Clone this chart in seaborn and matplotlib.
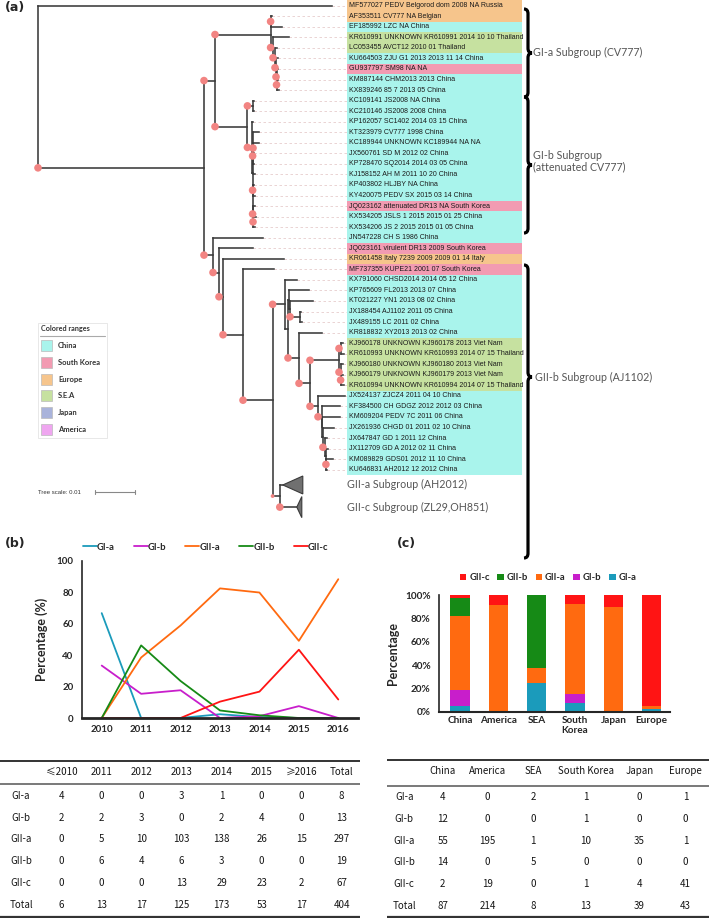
import numpy as np
import pandas as pd
import matplotlib
matplotlib.use("Agg")
import matplotlib.pyplot as plt
from matplotlib.path import Path
from matplotlib.patches import PathPatch, Rectangle, Polygon
from matplotlib.collections import LineCollection
from matplotlib.ticker import MultipleLocator
import seaborn as sns

# ---------------- (a) phylogenetic tree ----------------
# branch lengths in substitutions/site, internal labels = bootstrap support
TREE_NEWICK = (
    "(MF577027:0.0735,"
    "((((AF353511:0.00025,EF185992:0.00275)100:0.0001,"
    "(KR610991:0.004,(LC053455:0.0005,(KU664503:0.0005,(GU937797:0.00025,"
    "(KM887144:0.00025,KX839246:0.0006)100:0.00013)100:0.00013)100:0.00025)100:0.0005)100:0.0006)100:0.0139,"
    "((KC109141:0.0002,KC210146:0.0002)100:0.00145,"
    "(KP162057:0.0003,(KT323979:0.0016,((KC189944:0.0014,JX560761:0.00025)100:0.0001,KP728470:0.0003)100:0.0001,"
    "KJ158152:0.0006,(KP403802:0.0003,KY420075:0.0005)100:0.0001,"
    "(JQ023162:0.0005,(KX534205:0.0006,KX534206:0.0004)100:0.0001)100:0.0001):0.0002)100:0.0011)100:0.0081)100:0.00275,"
    "(JN547228:0.0125,(JQ023161:0.0085,(KR061458:0.01525,(MF737355:0.00775,"
    "((KX791060:0.0029,((KP765609:0.0051,(KT021227:0.00575,(JX188454:0.00025,JX489155:0.0005)100:0.0025):0.00025):0.00025,"
    "(KR818832:0.0057,(((KJ960178:0.0005,KR610993:0.0007)100:0.0005,(KJ960180:0.0006,(KJ960179:0.0005,KR610994:0.00075)100:0.00013)100:0.0004)100:0.00725,"
    "(JX524137:0.00675,(KF384500:0.0046,(KM609204:0.0044,(JX261936:0.00275,(JX647847:0.0005,(JX112709:0.0005,"
    "(KM089829:0.0016,KU646831:0.00013)100:0.00013):0.00025)100:0.0005):0.00013):0.0002)100:0.0009)100:0.002)100:0.00275)100:0.00275):0.00075)100:0.0031,"
    "(GII-a:0.00075,GII-c:0.00425)50:0.0018)100:0.0074)100:0.005)100:0.001)100:0.0015)100:0.00225)100:0.0415);"
)

LEAF_LABELS = [
    "MF577027 PEDV Belgorod dom 2008 NA Russia", "AF353511 CV777 NA Belgian",
    "EF185992 LZC NA China", "KR610991 UNKNOWN KR610991 2014 10 10 Thailand",
    "LC053455 AVCT12 2010 01 Thailand", "KU664503 ZJU G1 2013 2013 11 14 China",
    "GU937797 SM98 NA NA", "KM887144 CHM2013 2013 China", "KX839246 85 7 2013 05 China",
    "KC109141 JS2008 NA China", "KC210146 JS2008 2008 China", "KP162057 SC1402 2014 03 15 China",
    "KT323979 CV777 1998 China", "KC189944 UNKNOWN KC189944 NA NA", "JX560761 SD M 2012 02 China",
    "KP728470 SQ2014 2014 03 05 China", "KJ158152 AH M 2011 10 20 China", "KP403802 HLJBY NA China",
    "KY420075 PEDV SX 2015 03 14 China", "JQ023162 attenuated DR13 NA South Korea",
    "KX534205 JSLS 1 2015 2015 01 25 China", "KX534206 JS 2 2015 2015 01 05 China",
    "JN547228 CH S 1986 China", "JQ023161 virulent DR13 2009 South Korea",
    "KR061458 Italy 7239 2009 2009 01 14 Italy", "MF737355 KUPE21 2001 07 South Korea",
    "KX791060 CHSD2014 2014 05 12 China", "KP765609 FL2013 2013 07 China",
    "KT021227 YN1 2013 08 02 China", "JX188454 AJ1102 2011 05 China", "JX489155 LC 2011 02 China",
    "KR818832 XY2013 2013 02 China", "KJ960178 UNKNOWN KJ960178 2013 Viet Nam",
    "KR610993 UNKNOWN KR610993 2014 07 15 Thailand", "KJ960180 UNKNOWN KJ960180 2013 Viet Nam",
    "KJ960179 UNKNOWN KJ960179 2013 Viet Nam", "KR610994 UNKNOWN KR610994 2014 07 15 Thailand",
    "JX524137 ZJCZ4 2011 04 10 China", "KF384500 CH GDGZ 2012 2012 03 China",
    "KM609204 PEDV 7C 2011 06 China", "JX261936 CHGD 01 2011 02 10 China",
    "JX647847 GD 1 2011 12 China", "JX112709 GD A 2012 02 11 China",
    "KM089829 GDS01 2012 11 10 China", "KU646831 AH2012 12 2012 China",
]
LEAF_REGIONS = (
    ["Europe", "Europe", "China", "S.E.A", "S.E.A", "China", "South Korea", "China", "China"]
    + ["China"] * 10 + ["South Korea", "China", "China", "China", "South Korea", "Europe", "South Korea"]
    + ["China"] * 6 + ["S.E.A"] * 5 + ["China"] * 8
)

CLADE_NAMES = ["GII-a", "GII-c"]
CLADE_LABELS = ["GII-a Subgroup (AH2012)", "GII-c Subgroup (ZL29,OH851)"]
CLADE_DEPTH = [0.005, 0.00125]
CLADE_SUPPORT = [None, 100]

BRACE_LABELS = ["GI-a Subgroup (CV777)", "GI-b Subgroup\n(attenuated CV777)", "GII-b Subgroup (AJ1102)"]

RANGE_NAMES = ["China", "South Korea", "Europe", "S.E.A", "Japan", "America"]
RANGE_COLORS = ["#a9f4ec", "#f29bb2", "#f6c58c", "#c6e1a0", "#a9b3db", "#efa6f0"]

# ---------------- (b) counts by year ----------------
GROUPS = ["GI-a", "GI-b", "GII-a", "GII-b", "GII-c"]
YEARS = [2010, 2011, 2012, 2013, 2014, 2015, 2016]
YEAR_HEADER = ["≤2010", "2011", "2012", "2013", "2014", "2015", "≥2016", "Total"]
YEAR_GIa = [4, 0, 0, 3, 1, 0, 0, 8]
YEAR_GIb = [2, 2, 3, 0, 2, 4, 0, 13]
YEAR_GIIa = [0, 5, 10, 103, 138, 26, 15, 297]
YEAR_GIIb = [0, 6, 4, 6, 3, 0, 0, 19]
YEAR_GIIc = [0, 0, 0, 13, 29, 23, 2, 67]
YEAR_TOTAL = [6, 13, 17, 125, 173, 53, 17, 404]

# ---------------- (c) counts by region ----------------
REGIONS = ["China", "America", "SEA", "South Korea", "Japan", "Europe"]
REGION_TICKS = ["China", "America", "SEA", "South\nKorea", "Japan", "Europe"]
REGION_GIa = [4, 0, 2, 1, 0, 1]
REGION_GIb = [12, 0, 0, 1, 0, 0]
REGION_GIIa = [55, 195, 1, 10, 35, 1]
REGION_GIIb = [14, 0, 5, 0, 0, 0]
REGION_GIIc = [2, 19, 0, 1, 4, 41]
REGION_TOTAL = [87, 214, 8, 13, 39, 43]

GROUP_COLORS = {"GI-a": "#1b9bbb", "GI-b": "#c81ecb", "GII-a": "#ff6a10",
                "GII-b": "#168a16", "GII-c": "#ff1414"}

W, H = 709, 918
sns.set_style("white")
plt.rcParams["font.family"] = ["Lato", "DejaVu Sans"]


def parse_newick(s):
    pos = 0

    def node():
        nonlocal pos
        n = {"children": [], "name": "", "len": 0.0, "support": None}
        if s[pos] == "(":
            pos += 1
            n["children"].append(node())
            while s[pos] == ",":
                pos += 1
                n["children"].append(node())
            pos += 1
        start = pos
        while s[pos] not in ":,);":
            pos += 1
        label = s[start:pos]
        if n["children"]:
            n["support"] = float(label) if label else None
        else:
            n["name"] = label
        if s[pos] == ":":
            pos += 1
            start = pos
            while s[pos] not in ",);":
                pos += 1
            n["len"] = float(s[start:pos])
        return n

    return node()


def layout(n, x0, cursor, row_h):
    n["x"] = x0 + n["len"]
    if n["children"]:
        for c in n["children"]:
            cursor = layout(c, n["x"], cursor, row_h)
        n["y"] = (n["children"][0]["y"] + n["children"][-1]["y"]) / 2
    else:
        h = row_h.get(n["name"], 1.0)
        n["y"] = cursor + h / 2
        cursor += h
    return cursor


def walk(n, parent=None):
    yield n, parent
    for c in n["children"]:
        yield from walk(c, n)


def brace(ax, x, y0, y1, ym, w, q, **kw):
    xm = x + w / 2
    verts = [(x, y0), (xm, y0), (xm, y0 + q), (xm, ym - q), (xm, ym), (x + w, ym),
             (xm, ym), (xm, ym + q), (xm, y1 - q), (xm, y1), (x, y1)]
    codes = [Path.MOVETO, Path.CURVE3, Path.CURVE3, Path.LINETO, Path.CURVE3, Path.CURVE3,
             Path.CURVE3, Path.CURVE3, Path.LINETO, Path.CURVE3, Path.CURVE3]
    ax.add_patch(PathPatch(Path(verts, codes), fill=False, **kw))


fig = plt.figure(figsize=(W / 100, H / 100), dpi=100)

# ---------- panel (a) ----------
TREE_TOP, TREE_BOT = 0, 560
ROOT_PX, PX_PER_UNIT = 38, 4000
ROW0_PX, ROW_PX = 5.7, 10.545


def X(px):
    return (px - ROOT_PX) / PX_PER_UNIT


def Y(py):
    return (py - ROW0_PX) / ROW_PX


ax_a = fig.add_axes([0, 1 - TREE_BOT / H, 1, (TREE_BOT - TREE_TOP) / H])
ax_a.set_xlim(X(0), X(W))
ax_a.set_ylim(Y(TREE_BOT), Y(TREE_TOP))
ax_a.axis("off")

tree = parse_newick(TREE_NEWICK)
layout(tree, 0.0, -0.5, {"GII-a": 1.9, "GII-c": 2.3})

segs = []
pts, sizes = [], []
leaves = []
for n, p in walk(tree):
    if n["children"]:
        segs.append([(n["x"], n["children"][0]["y"]), (n["x"], n["children"][-1]["y"])])
    else:
        leaves.append(n)
    if p is not None:
        segs.append([(p["x"], n["y"]), (n["x"], n["y"])])
        sup = n["support"]
        if n["name"] in CLADE_NAMES:
            sup = CLADE_SUPPORT[CLADE_NAMES.index(n["name"])]
        if sup:
            pts.append((p["x"], n["y"]))
            sizes.append(30 * (sup / 100) ** 2)

label_x0, label_x1 = X(347), X(522)
region_color = dict(zip(RANGE_NAMES, RANGE_COLORS))
leaf_i = 0
for lf in leaves:
    if lf["name"] in CLADE_NAMES:
        k = CLADE_NAMES.index(lf["name"])
        d = CLADE_DEPTH[k]
        hh = 0.85 if k == 0 else 1.0
        ax_a.add_patch(Polygon([(lf["x"], lf["y"]), (lf["x"] + d, lf["y"] - hh), (lf["x"] + d, lf["y"] + hh)],
                               closed=True, facecolor="#707070", edgecolor="#3a3a3a", lw=0.8, zorder=3))
        ax_a.text(label_x0, lf["y"], CLADE_LABELS[k], fontsize=7.7, color="#555555",
                  va="center", ha="left")
        continue
    ax_a.plot([lf["x"], label_x0], [lf["y"], lf["y"]], color="#e6cccc", lw=0.6,
              linestyle=(0, (3, 3)), zorder=1)
    ax_a.add_patch(Rectangle((label_x0, lf["y"] - 0.5), label_x1 - label_x0, 1.0,
                             facecolor=region_color[LEAF_REGIONS[leaf_i]], edgecolor="none", zorder=1))
    ax_a.text(X(349), lf["y"], LEAF_LABELS[leaf_i], fontsize=5.0, color="#1a1a1a",
              family="Liberation Sans", va="center", ha="left", zorder=2)
    leaf_i += 1

ax_a.add_collection(LineCollection(segs, colors="#3a3a3a", linewidths=1.15, capstyle="projecting", zorder=2))
ax_a.scatter([p[0] for p in pts], [p[1] for p in pts], s=sizes, color="#f28482",
             edgecolor="none", zorder=4)

# braces with subgroup labels
brace_kw = dict(edgecolor="black", lw=2.3, zorder=5)
brace(ax_a, X(524), Y(9), Y(97), Y(53), X(532) - X(524), 0.45, **brace_kw)
brace(ax_a, X(524), Y(97), Y(233), Y(165), X(532) - X(524), 0.45, **brace_kw)
brace(ax_a, X(524), Y(265), Y(558), Y(377), X(532) - X(524), 0.45, **brace_kw)
ax_a.text(X(533), Y(52), BRACE_LABELS[0], fontsize=7.7, color="#555555", va="center")
ax_a.text(X(533), Y(161), BRACE_LABELS[1], fontsize=7.7, color="#555555", va="center",
          linespacing=1.05)
ax_a.text(X(535), Y(377), BRACE_LABELS[2], fontsize=7.7, color="#555555", va="center")

# colored ranges legend
ax_a.add_patch(Rectangle((X(38), Y(438)), X(107) - X(38), Y(323) - Y(438),
                         facecolor="white", edgecolor="#e4e4e4", lw=0.6, zorder=3))
ax_a.text(X(41), Y(329), "Colored ranges", fontsize=5.2, fontweight="bold", color="#333333",
          va="center", zorder=4)
ax_a.plot([X(40), X(105)], [Y(336), Y(336)], color="#aaaaaa", lw=0.8, zorder=4)
for i, (nm, col) in enumerate(zip(RANGE_NAMES, RANGE_COLORS)):
    yc = 345.7 + 16.7 * i
    ax_a.add_patch(Rectangle((X(41), Y(yc + 5.5)), X(52) - X(41), Y(yc - 5.5) - Y(yc + 5.5),
                             facecolor=col, edgecolor="#bbbbbb", lw=0.5, zorder=4))
    ax_a.text(X(58), Y(yc), nm, fontsize=5.5, fontweight="bold", color="#333333",
              va="center", zorder=4)

# tree scale
ax_a.text(X(38), Y(492), "Tree scale: 0.01", fontsize=4.3, color="#333333", va="center",
          family="Liberation Sans")
ax_a.plot([X(95), X(95) + 0.01], [Y(492), Y(492)], color="#888888", lw=0.8)
for xx in (X(95), X(95) + 0.01):
    ax_a.plot([xx, xx], [Y(490), Y(494)], color="#888888", lw=0.8)

fig.text(5 / W, 1 - 8 / H, "(a)", fontsize=9, fontweight="bold", va="center", family="DejaVu Sans")
fig.text(5 / W, 1 - 543 / H, "(b)", fontsize=9, fontweight="bold", va="center", family="DejaVu Sans")
fig.text(397 / W, 1 - 543 / H, "(c)", fontsize=9, fontweight="bold", va="center", family="DejaVu Sans")

# ---------- panel (b) ----------
year_counts = [YEAR_GIa, YEAR_GIb, YEAR_GIIa, YEAR_GIIb, YEAR_GIIc]
rows = []
for g, cnt in zip(GROUPS, year_counts):
    for j, yr in enumerate(YEARS):
        rows.append({"year": yr, "group": g, "pct": 100 * cnt[j] / YEAR_TOTAL[j]})
df_b = pd.DataFrame(rows)

ax_b = fig.add_axes([82 / W, 1 - 718 / H, 276 / W, 157.3 / H])
sns.lineplot(data=df_b, x="year", y="pct", hue="group", hue_order=GROUPS,
             palette=GROUP_COLORS, linewidth=1.3, ax=ax_b)
ax_b.set_xlim(2009.5, 2016.5)
ax_b.set_ylim(0, 100)
ax_b.set_xticks(YEARS)
ax_b.set_xticklabels([str(y) for y in YEARS], fontweight="bold", fontsize=7)
ax_b.set_yticks(range(0, 101, 20))
ax_b.set_yticklabels([str(v) for v in range(0, 101, 20)], fontweight="bold", fontsize=7)
ax_b.yaxis.set_minor_locator(MultipleLocator(10))
ax_b.tick_params(axis="x", length=0, pad=5)
ax_b.tick_params(axis="y", which="major", direction="out", length=4, width=1.2, pad=2)
ax_b.tick_params(axis="y", which="minor", direction="in", length=2.5, width=1.0)
ax_b.set_xlabel("")
ax_b.set_ylabel("Percentage (%)", fontweight="bold", fontsize=9, labelpad=6)
for s in ("top", "right"):
    ax_b.spines[s].set_visible(False)
ax_b.spines["left"].set_linewidth(1.2)
ax_b.spines["bottom"].set_linewidth(2.0)
handles, labels = ax_b.get_legend_handles_labels()
leg = ax_b.legend(handles, labels, loc="center", bbox_to_anchor=(0.447, 1.087), ncol=5,
                  frameon=False, handlelength=1.5, handletextpad=0.0, columnspacing=2.0,
                  prop={"weight": "bold", "size": 6.8})

# ---------- panel (c) ----------
region_counts = [REGION_GIa, REGION_GIb, REGION_GIIa, REGION_GIIb, REGION_GIIc]
rows = []
for g, cnt in zip(GROUPS, region_counts):
    for j, r in enumerate(REGIONS):
        rows.append({"region": r, "group": g, "count": cnt[j]})
df_c = pd.DataFrame(rows)

ax_c = fig.add_axes([439 / W, 1 - 711.7 / H, 231 / W, 116.7 / H])
sns.histplot(data=df_c, x="region", hue="group", weights="count", multiple="fill",
             discrete=True, shrink=0.5, hue_order=GROUPS[::-1], palette=GROUP_COLORS,
             alpha=1, linewidth=0, ax=ax_c)
ax_c.set_xlim(-0.55, 5.48)
ax_c.set_ylim(0, 1)
ax_c.set_xticks(range(len(REGIONS)))
ax_c.set_xticklabels(REGION_TICKS, fontweight="bold", fontsize=7.2)
ax_c.set_yticks(np.arange(0, 1.01, 0.2))
ax_c.set_yticklabels([f"{v}%" for v in range(0, 101, 20)], fontweight="bold", fontsize=7.2)
ax_c.yaxis.set_minor_locator(MultipleLocator(0.1))
ax_c.tick_params(axis="x", length=0, pad=3)
ax_c.tick_params(axis="y", which="major", direction="out", length=4, width=1.2, pad=2)
ax_c.tick_params(axis="y", which="minor", direction="out", length=2.5, width=1.0)
ax_c.set_xlabel("")
ax_c.set_ylabel("Percentage", fontweight="bold", fontsize=9, labelpad=4)
for s in ("top", "right"):
    ax_c.spines[s].set_visible(False)
ax_c.spines["left"].set_linewidth(1.2)
ax_c.spines["bottom"].set_linewidth(1.5)
sns.move_legend(ax_c, "center", bbox_to_anchor=(0.472, 1.146), ncol=5, frameon=False,
                title=None, handlelength=0.7, handleheight=0.7, handletextpad=0.3,
                columnspacing=0.8, fontsize=6.8)
for t in ax_c.get_legend().get_texts():
    t.set_fontweight("bold")

# ---------- tables ----------
TABLE_FONT = ["Noto Sans CJK SC", "DejaVu Sans"]


def draw_table(rect, xlim, header, row_names, data_rows, col_x, first_x, y_top, y_hdr, y_rule,
               y_rows, y_bot):
    ax = fig.add_axes(rect)
    ax.set_xlim(*xlim)
    ax.set_ylim(H, 755)
    ax.axis("off")
    ax.hlines(y_top, xlim[0], xlim[1], color="#333333", lw=1.4)
    ax.hlines(y_rule, xlim[0], xlim[1], color="#555555", lw=1.1)
    ax.hlines(y_bot, xlim[0], xlim[1], color="#333333", lw=1.6)
    for j, h in enumerate(header):
        ax.text(col_x[j], y_hdr, h, ha="center", va="center", fontsize=7,
                family=TABLE_FONT, color="#151515")
    for i, (nm, vals) in enumerate(zip(row_names, data_rows)):
        ax.text(first_x, y_rows[i], nm, ha="center", va="center", fontsize=7,
                family=TABLE_FONT, color="#151515")
        for j, v in enumerate(vals):
            ax.text(col_x[j], y_rows[i], str(v), ha="center", va="center", fontsize=7,
                    family=TABLE_FONT, color="#151515")


row_names = GROUPS + ["Total"]
draw_table([0, 0, 360 / W, (H - 755) / H], (0, 360), YEAR_HEADER, row_names,
           [YEAR_GIa, YEAR_GIb, YEAR_GIIa, YEAR_GIIb, YEAR_GIIc, YEAR_TOTAL],
           [61.7 + 40 * j for j in range(8)], 21, 761, 771.7, 784,
           [795.7 + 21.9 * i for i in range(6)], 917)
draw_table([387 / W, 0, (W - 387) / W, (H - 755) / H], (387, W), REGIONS, row_names,
           [REGION_GIa, REGION_GIb, REGION_GIIa, REGION_GIIb, REGION_GIIc, REGION_TOTAL],
           [442.7, 487.7, 533.3, 586, 639.3, 685.7], 404.3, 760, 770.7, 786,
           [797.3 + 21.7 * i for i in range(6)], 917)

fig.savefig("out.png", dpi=100)
